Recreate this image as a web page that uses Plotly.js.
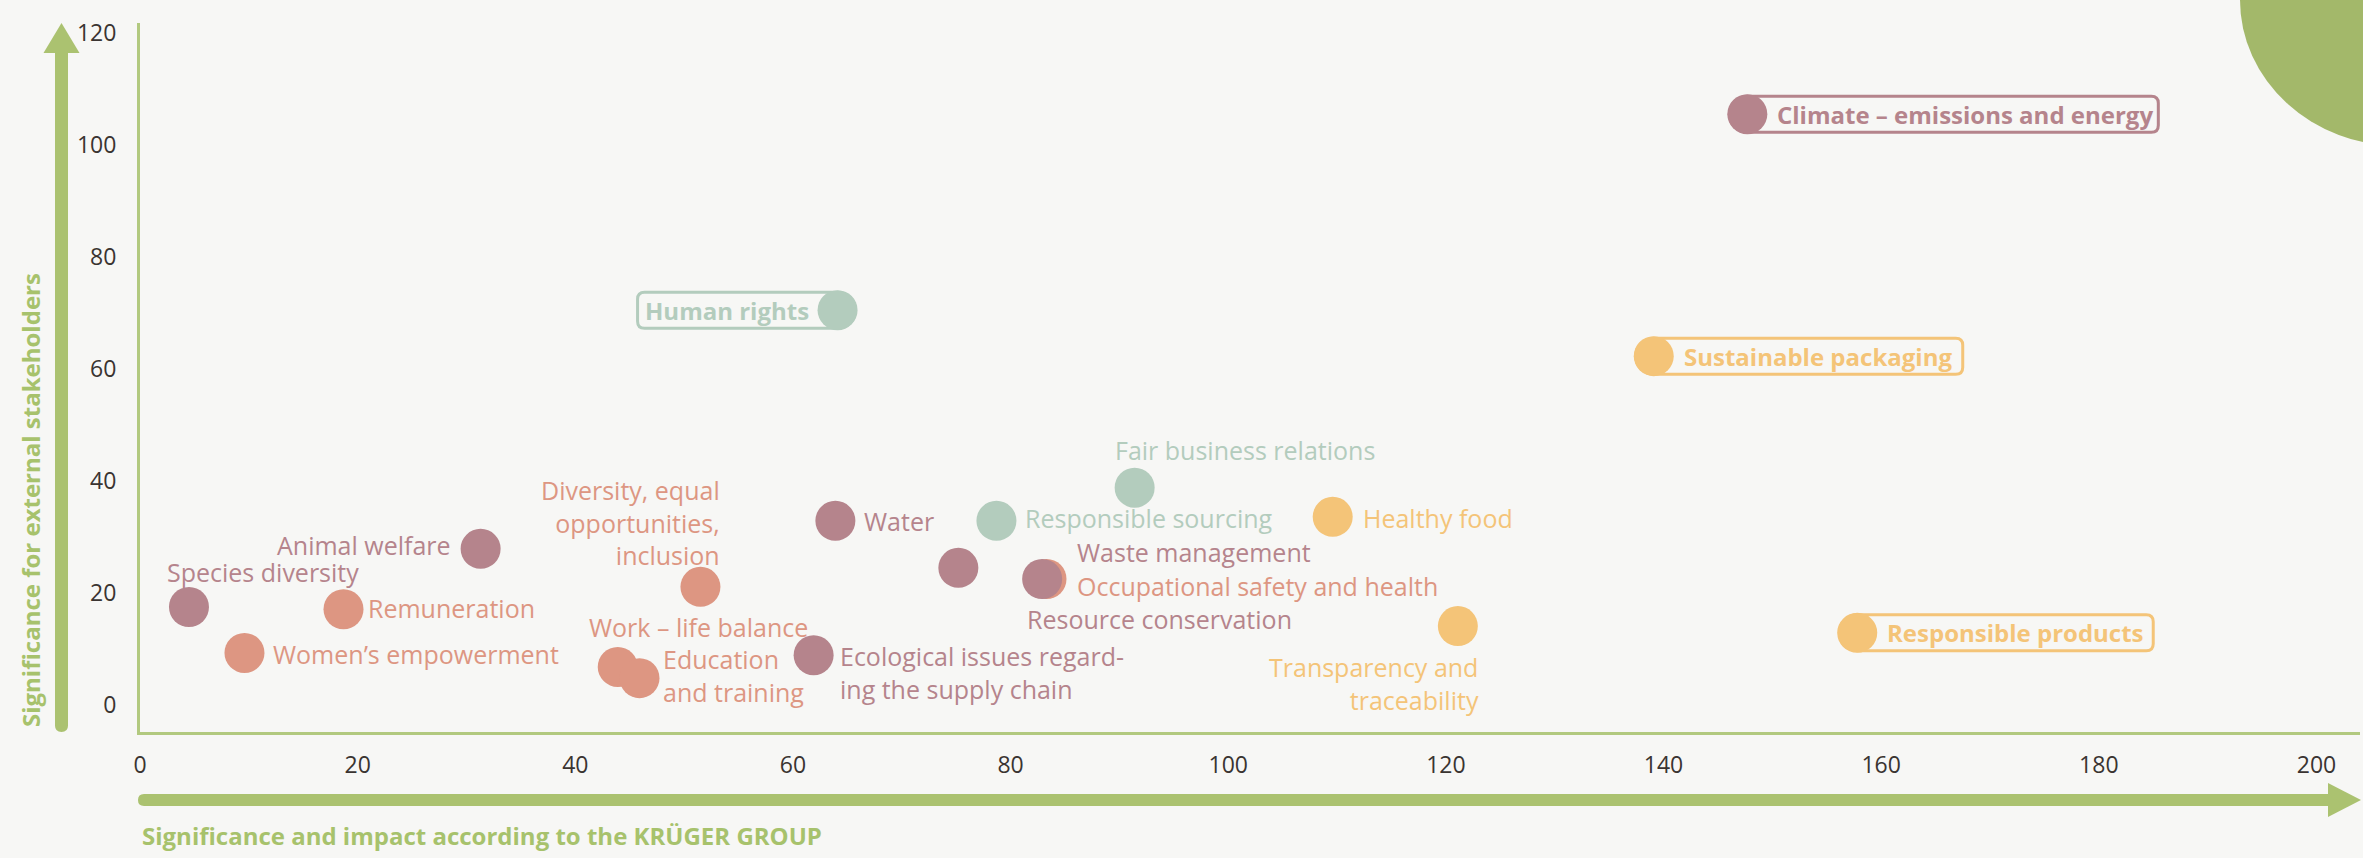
<!DOCTYPE html>
<html>
<head>
<meta charset="utf-8">
<script src="https://cdn.plot.ly/plotly-3.0.1.min.js"></script>
<style>
  html, body { margin: 0; padding: 0; background: #F7F7F5; }
  #chart { width: 2363px; height: 858px; }
</style>
</head>
<body>
<div id="chart"></div>
<script>
// ---------------- DATA ----------------
const envTopics = ["Climate – emissions and energy", "Water", "Waste management", "Resource conservation",
                   "Ecological issues regard-<br>ing the supply chain", "Animal welfare", "Species diversity"];
const envX = [147.7, 63.9, 82.9, 75.2, 61.9, 31.3, 4.5];
const envY = [105.5, 32.9, 22.5, 24.5, 8.9, 27.9, 17.5];

const socTopics = ["Occupational safety and health", "Diversity, equal<br>opportunities,<br>inclusion", "Remuneration",
                   "Women’s empowerment", "Work – life balance", "Education<br>and training"];
const socX = [83.3, 51.5, 18.7, 9.6, 43.9, 45.9];
const socY = [22.5, 21.1, 17.1, 9.3, 6.8, 4.8];

const govTopics = ["Human rights", "Fair business relations", "Responsible sourcing"];
const govX = [64.1, 91.4, 78.7];
const govY = [70.5, 38.8, 32.9];

const prodTopics = ["Sustainable packaging", "Responsible products", "Healthy food", "Transparency and<br>traceability"];
const prodX = [139.1, 157.8, 109.6, 121.1];
const prodY = [62.3, 12.9, 33.6, 14.1];

const highlighted = ["Climate – emissions and energy", "Human rights", "Sustainable packaging", "Responsible products"];

const xTicks = [0, 20, 40, 60, 80, 100, 120, 140, 160, 180, 200];
const yTicks = [0, 20, 40, 60, 80, 100, 120];

const xTitle = "Significance and impact according to the KRÜGER GROUP";
const yTitle = "Significance for external stakeholders";

// ---------------- STYLE ----------------
const BG = "#F7F7F5";
const GREEN = "#ABC270";
const AXISLINE = "#B2C97F";
const TITLE_GREEN = "#A7C26C";
const FONT = "Open Sans, Noto Sans, sans-serif";

const groups = [
  {topics: socTopics, x: socX, y: socY, color: "#DD9682"},
  {topics: govTopics, x: govX, y: govY, color: "#B3CCBD"},
  {topics: prodTopics, x: prodX, y: prodY, color: "#F4C478"},
  {topics: envTopics, x: envX, y: envY, color: "#B5848C"}
];

// label placement (pixel offsets relative to the marker centre)
const labelPlace = {
  "Species diversity": {anchor: "left", dx: -22, dy: 35},
  "Animal welfare": {anchor: "right", dx: -30, dy: 4},
  "Diversity, equal<br>opportunities,<br>inclusion": {anchor: "right", dx: 20, dy: 64},
  "Remuneration": {anchor: "left", dx: 24, dy: 1},
  "Women’s empowerment": {anchor: "left", dx: 29, dy: -1},
  "Work – life balance": {anchor: "left", dx: -29, dy: 40},
  "Education<br>and training": {anchor: "left", dx: 23, dy: 3},
  "Water": {anchor: "left", dx: 29, dy: 0},
  "Responsible sourcing": {anchor: "left", dx: 29, dy: 3},
  "Fair business relations": {anchor: "left", dx: -20, dy: 38},
  "Healthy food": {anchor: "left", dx: 30, dy: -1},
  "Waste management": {anchor: "left", dx: 35, dy: 27},
  "Occupational safety and health": {anchor: "left", dx: 30, dy: -7},
  "Resource conservation": {anchor: "left", dx: 69, dy: -51},
  "Ecological issues regard-<br>ing the supply chain": {anchor: "left", dx: 26, dy: -17},
  "Transparency and<br>traceability": {anchor: "right", dx: 21, dy: -57},
  "Climate – emissions and energy": {anchor: "left", dx: 30, dy: 0, box: 411},
  "Sustainable packaging": {anchor: "left", dx: 30, dy: 0, box: 309},
  "Responsible products": {anchor: "left", dx: 30, dy: 0, box: 296},
  "Human rights": {anchor: "right", dx: -29, dy: 0, box: 200}
};

// ---------------- GEOMETRY HELPERS ----------------
const L = 140, R = 2360, T = 23, B = 732;
const PX = px => (px - L) / (R - L);
const PY = py => (B - py) / (B - T);
function paperPath(pts) {
  return pts.map(s => s[0] + (s.length > 1 ? s.slice(1).map(p => PX(p[0]).toFixed(5) + "," + PY(p[1]).toFixed(5)).join(" ") : "")).join(" ") ;
}
function pillPath(len, h, r, dir) {
  const k = 0.5523 * h;
  const p = (x, y) => (dir * x).toFixed(2) + "," + y.toFixed(2);
  return "M" + p(0, h) + " L" + p(len - r, h) + " Q" + p(len, h) + " " + p(len, h - r) +
         " L" + p(len, -h + r) + " Q" + p(len, -h) + " " + p(len - r, -h) +
         " L" + p(0, -h) + " C" + p(-k, -h) + " " + p(-h, -k) + " " + p(-h, 0) +
         " C" + p(-h, k) + " " + p(-k, h) + " " + p(0, h) + " Z";
}

// ---------------- TRACES, LABELS, BOXES ----------------
const traces = [];
const annotations = [];
const shapes = [];

groups.forEach(g => {
  traces.push({
    type: "scatter", mode: "markers", x: g.x, y: g.y, text: g.topics,
    hoverinfo: "text", showlegend: false, cliponaxis: false,
    marker: {size: 40, color: g.color, line: {width: 0}}
  });
  g.topics.forEach((t, i) => {
    const pl = labelPlace[t];
    const isHi = highlighted.indexOf(t) >= 0;
    annotations.push({
      x: g.x[i], y: g.y[i], xref: "x", yref: "y", text: t, showarrow: false,
      xanchor: pl.anchor, yanchor: "middle", align: pl.anchor, xshift: pl.dx, yshift: pl.dy,
      borderpad: 0, borderwidth: 0,
      font: {family: FONT, size: isHi ? 24 : 25, color: g.color, weight: isHi ? 700 : 400}
    });
    if (isHi) {
      shapes.push({
        type: "path", xref: "x", yref: "y", xsizemode: "pixel", ysizemode: "pixel",
        xanchor: g.x[i], yanchor: g.y[i],
        path: pillPath(pl.box, 18, 7, pl.anchor === "left" ? 1 : -1),
        line: {color: g.color, width: 3}, fillcolor: BG, layer: "below"
      });
    }
  });
});

// axis arrows and decoration (paper coordinates derived from pixel geometry)
shapes.push({
  type: "path", xref: "paper", yref: "paper", layer: "above", line: {width: 0}, fillcolor: GREEN,
  path: paperPath([["M", [55, 53]], ["L", [68, 53]], ["L", [68, 725.5]], ["Q", [68, 732], [61.5, 732]], ["Q", [55, 732], [55, 725.5]], ["Z"]])
});
shapes.push({
  type: "path", xref: "paper", yref: "paper", layer: "above", line: {width: 0}, fillcolor: GREEN,
  path: paperPath([["M", [43.5, 53]], ["L", [79.5, 53]], ["L", [61.5, 23]], ["Z"]])
});
shapes.push({
  type: "path", xref: "paper", yref: "paper", layer: "above", line: {width: 0}, fillcolor: GREEN,
  path: paperPath([["M", [144, 794]], ["L", [2330, 794]], ["L", [2330, 806]], ["L", [144, 806]], ["Q", [138, 806], [138, 800]], ["Q", [138, 794], [144, 794]], ["Z"]])
});
shapes.push({
  type: "path", xref: "paper", yref: "paper", layer: "above", line: {width: 0}, fillcolor: GREEN,
  path: paperPath([["M", [2328, 783]], ["L", [2361, 800]], ["L", [2328, 817]], ["Z"]])
});
shapes.push({
  type: "circle", xref: "paper", yref: "paper", layer: "above", line: {width: 0}, fillcolor: "#A3B86A",
  x0: PX(2240), x1: PX(2560), y0: PY(146), y1: PY(-146)
});

// axis titles
annotations.push({
  xref: "paper", yref: "paper", x: PX(140), y: PY(835), xanchor: "left", yanchor: "middle",
  text: xTitle, showarrow: false, font: {family: FONT, size: 24, color: TITLE_GREEN, weight: 700}
});
annotations.push({
  xref: "paper", yref: "paper", x: PX(30), y: PY(500), xanchor: "center", yanchor: "middle",
  textangle: -90, text: yTitle, showarrow: false, font: {family: FONT, size: 24, color: TITLE_GREEN, weight: 700}
});

const layout = {
  width: 2363, height: 858,
  paper_bgcolor: BG, plot_bgcolor: BG,
  margin: {l: L, r: 2363 - R, t: T, b: 858 - B, pad: 0},
  showlegend: false,
  font: {family: FONT},
  xaxis: {
    range: [0, 204], tickvals: xTicks, ticktext: xTicks.map(String),
    showgrid: false, zeroline: false, showline: true, linecolor: AXISLINE, linewidth: 3,
    ticks: "", ticklabelstandoff: 10,
    tickfont: {family: FONT, size: 23, color: "#3A3431"}, fixedrange: true
  },
  yaxis: {
    range: [-4.82, 121.79], tickvals: yTicks, ticktext: yTicks.map(String),
    showgrid: false, zeroline: false, showline: true, linecolor: AXISLINE, linewidth: 3,
    ticks: "", ticklabelstandoff: 16,
    tickfont: {family: FONT, size: 23, color: "#3A3431"}, fixedrange: true
  },
  annotations: annotations,
  shapes: shapes
};

Plotly.newPlot("chart", traces, layout, {displayModeBar: false, responsive: false});
</script>
</body>
</html>
